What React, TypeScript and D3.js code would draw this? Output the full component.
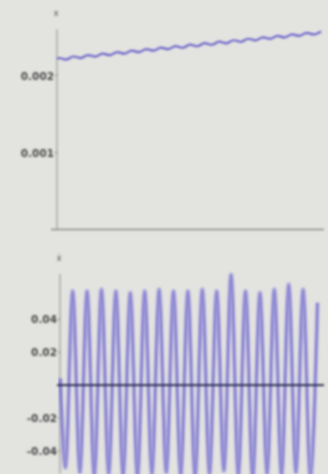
import React from "react";
import * as d3 from "d3";

// ---- data ----
// top panel: position x vs. time (cycles), read at wiggle extrema
const posTime = [0, 0.13, 0.63, 1.13, 1.63, 2.13, 2.63, 3.13, 3.63, 4.13, 4.63, 5.13, 5.63, 6.13, 6.63, 7.13, 7.63, 8.13, 8.63, 9.13, 9.63, 10.13, 10.63, 11.13, 11.63, 12.13, 12.63, 13.13, 13.63, 14.13, 14.63, 15.13, 15.63, 16.13, 16.63, 17.13, 17.63, 18.13];
const posValue = [0.002215, 0.0022275, 0.0022071, 0.0022467, 0.0022263, 0.0022659, 0.0022455, 0.0022851, 0.0022647, 0.0023043, 0.0022839, 0.0023235, 0.0023031, 0.0023427, 0.0023223, 0.0023619, 0.0023415, 0.0023811, 0.0023607, 0.0024003, 0.0023799, 0.0024195, 0.0023991, 0.0024387, 0.0024183, 0.0024579, 0.0024375, 0.0024771, 0.0024567, 0.0024963, 0.0024759, 0.0025155, 0.0024951, 0.0025347, 0.0025143, 0.0025539, 0.0025335, 0.0025731];
const posTicks = [0.001, 0.002];

// bottom panel: velocity extrema
const velStart = [{ t: 0.02, v: 0.004 }];
const velPeaks = [0.057, 0.057, 0.058, 0.057, 0.056, 0.057, 0.058, 0.057, 0.057, 0.058, 0.057, 0.067, 0.057, 0.056, 0.058, 0.061, 0.058, 0.05];
const velTroughs = [-0.05, -0.053, -0.055, -0.054, -0.055, -0.056, -0.054, -0.053, -0.055, -0.056, -0.054, -0.052, -0.055, -0.057, -0.054, -0.055, -0.053, -0.056];
const peakTimes = [0.88, 1.88, 2.88, 3.88, 4.88, 5.88, 6.88, 7.88, 8.88, 9.88, 10.88, 11.88, 12.88, 13.88, 14.88, 15.88, 16.88, 17.88];
const troughTimes = [0.38, 1.38, 2.38, 3.38, 4.38, 5.38, 6.38, 7.38, 8.38, 9.38, 10.38, 11.38, 12.38, 13.38, 14.38, 15.38, 16.38, 17.38];
const velTicks = [-0.04, -0.02, 0.02, 0.04];

const W = 328;
const H = 474;
const BG = "#e3e3e0";
const AXIS = "#9a9a9a";
const LINE = "#5b52c6";
const TEXT = "#4a4a4a";

export default function App() {
  // top scales
  const xTop = d3.scaleLinear().domain([0, 18.33]).range([57, 324]);
  const yTop = d3.scaleLinear().domain([0, 0.0026]).range([229.5, 29.3]);
  const posData = posTime.map((t, i) => ({ t, v: posValue[i] }));
  const posLine = d3
    .line<{ t: number; v: number }>()
    .x((d) => xTop(d.t))
    .y((d) => yTop(d.v))
    .curve(d3.curveMonotoneX);

  // bottom scales
  const xBot = d3.scaleLinear().domain([0, 18.33]).range([60, 324]);
  const yBot = d3.scaleLinear().domain([-0.06, 0.068]).range([484, 273]);
  const velData: { t: number; v: number }[] = [...velStart];
  for (let i = 0; i < peakTimes.length; i++) {
    velData.push({ t: troughTimes[i], v: velTroughs[i] });
    velData.push({ t: peakTimes[i], v: velPeaks[i] });
  }
  const velLine = d3
    .line<{ t: number; v: number }>()
    .x((d) => xBot(d.t))
    .y((d) => yBot(d.v))
    .curve(d3.curveMonotoneX);

  const fmt = (v: number) => d3.format(".3f")(v).replace("−", "-");
  const fmt2 = (v: number) => d3.format(".2f")(v).replace("−", "-");

  return (
    <svg
      width={W}
      height={H}
      style={{ position: "absolute", left: 0, top: 0 }}
      fontFamily="DejaVu Sans, sans-serif"
    >
      <defs>
        <filter id="blur" filterUnits="userSpaceOnUse" x={0} y={0} width={W} height={H}>
          <feGaussianBlur stdDeviation="0.9" />
        </filter>
        <filter id="blur2" filterUnits="userSpaceOnUse" x={0} y={0} width={W} height={H}>
          <feGaussianBlur stdDeviation="1.3" />
        </filter>
        <clipPath id="clipBot">
          <rect x={58} y={262} width={268} height={212} />
        </clipPath>
      </defs>
      <rect width={W} height={H} fill={BG} />
      <g filter="url(#blur)">
        {/* top panel */}
        <line x1={xTop(0)} x2={xTop(0)} y1={yTop(0.0026)} y2={yTop(0)} stroke={AXIS} strokeWidth={1.2} />
        <line x1={51} x2={324} y1={yTop(0)} y2={yTop(0)} stroke="#8a8a8a" strokeWidth={1.4} />
        <text x={xTop(0) - 1} y={16} fontSize={8} fill={TEXT} textAnchor="middle">x</text>
        {posTicks.map((v) => (
          <g key={v}>
            <line x1={xTop(0) - 3} x2={xTop(0) + 1} y1={yTop(v)} y2={yTop(v)} stroke={AXIS} />
            <text x={xTop(0) - 3} y={yTop(v) + 4} fontSize={10.5} fill={TEXT} textAnchor="end" fontWeight="bold">
              {fmt(v)}
            </text>
          </g>
        ))}
        <path d={posLine(posData) || ""} fill="none" stroke={LINE} strokeWidth={2.2} strokeOpacity={0.85} />

        {/* bottom panel */}
        <line x1={xBot(0)} x2={xBot(0)} y1={274} y2={H} stroke={AXIS} strokeWidth={1.2} />
        <text x={xBot(0) - 1} y={261} fontSize={8} fill={TEXT} textAnchor="middle">ẋ</text>
        {velTicks.map((v) => (
          <g key={v}>
            <line x1={xBot(0) - 3} x2={xBot(0) + 1} y1={yBot(v)} y2={yBot(v)} stroke={AXIS} />
            <text x={xBot(0) - 3} y={yBot(v) + 4} fontSize={10.5} fill={TEXT} textAnchor="end" fontWeight="bold">
              {fmt2(v)}
            </text>
          </g>
        ))}
      </g>
      <g clipPath="url(#clipBot)" filter="url(#blur2)">
        <path d={velLine(velData) || ""} fill="none" stroke="#7a70d8" strokeWidth={4.5} strokeOpacity={0.45} />
        <path d={velLine(velData) || ""} fill="none" stroke={LINE} strokeWidth={1.6} strokeOpacity={0.7} />
      </g>
      <g filter="url(#blur)">
        <line x1={57} x2={324} y1={yBot(0)} y2={yBot(0)} stroke="#22224a" strokeWidth={1.8} />
      </g>
    </svg>
  );
}
